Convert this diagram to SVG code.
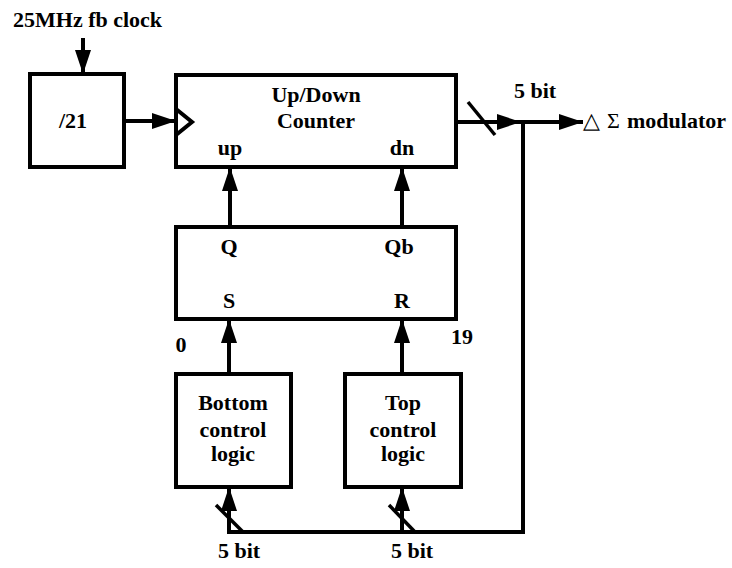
<svg xmlns="http://www.w3.org/2000/svg" width="732" height="568" viewBox="0 0 732 568">
  <style>
    .box { fill: #fff; stroke: #000; stroke-width: 4; }
    .wire { fill: none; stroke: #000; stroke-width: 4; }
    .slash { fill: none; stroke: #000; stroke-width: 3.5; }
    text { font-family: "Liberation Serif", "Times New Roman", serif; font-weight: bold; font-size: 22px; fill: #000; }
    .c { text-anchor: middle; }
    .thin { font-weight: normal; }
  </style>
  <defs>
    <marker id="arrow" markerUnits="userSpaceOnUse" markerWidth="24" markerHeight="16" refX="24" refY="8" orient="auto">
      <path d="M0,0 L24,8 L0,16 z" fill="#000"/>
    </marker>
  </defs>

  <rect width="732" height="568" fill="#fff"/>

  <!-- clock input label -->
  <text x="13" y="27">25MHz fb clock</text>

  <g id="divider">
    <rect class="box" x="30" y="74" width="94" height="93"/>
    <text class="c" x="73" y="128">/21</text>
  </g>

  <g id="counter">
    <rect class="box" x="176" y="75" width="280" height="92"/>
    <path class="wire" d="M176,109 L192,122 L176,135"/>
    <text class="c" x="316" y="102">Up/Down</text>
    <text class="c" x="316" y="128">Counter</text>
    <text class="c" x="230" y="155">up</text>
    <text class="c" x="402" y="155">dn</text>
  </g>

  <g id="srlatch">
    <rect class="box" x="176" y="227" width="280" height="92"/>
    <text class="c" x="229" y="254">Q</text>
    <text class="c" x="399" y="254">Qb</text>
    <text class="c" x="229" y="308">S</text>
    <text class="c" x="402" y="308">R</text>
  </g>

  <g id="bottom-control">
    <rect class="box" x="176" y="374" width="115" height="113"/>
    <text class="c" x="233" y="410">Bottom</text>
    <text class="c" x="233" y="437">control</text>
    <text class="c" x="233" y="461">logic</text>
  </g>

  <g id="top-control">
    <rect class="box" x="345" y="374" width="116" height="113"/>
    <text class="c" x="403" y="410">Top</text>
    <text class="c" x="403" y="437">control</text>
    <text class="c" x="403" y="461">logic</text>
  </g>

  <g id="connectors">
    <!-- clock into divider -->
    <line class="wire" x1="83" y1="38" x2="83" y2="74" marker-end="url(#arrow)"/>
    <!-- divider to counter clock -->
    <line class="wire" x1="124" y1="121" x2="176" y2="121" marker-end="url(#arrow)"/>
    <!-- latch outputs to counter -->
    <line class="wire" x1="230" y1="227" x2="230" y2="167" marker-end="url(#arrow)"/>
    <line class="wire" x1="402" y1="227" x2="402" y2="167" marker-end="url(#arrow)"/>
    <!-- control logic to latch -->
    <line class="wire" x1="229" y1="374" x2="229" y2="319" marker-end="url(#arrow)"/>
    <line class="wire" x1="402" y1="374" x2="402" y2="319" marker-end="url(#arrow)"/>
    <!-- counter output bus -->
    <line class="wire" x1="456" y1="122" x2="521" y2="122" marker-end="url(#arrow)"/>
    <line class="wire" x1="521" y1="122" x2="583" y2="122" marker-end="url(#arrow)"/>
    <line class="slash" x1="468" y1="102" x2="495" y2="135"/>
    <!-- feedback bus -->
    <path class="wire" d="M523,120 L523,532 L229,532"/>
    <line class="wire" x1="229" y1="534" x2="229" y2="487" marker-end="url(#arrow)"/>
    <line class="wire" x1="402" y1="534" x2="402" y2="487" marker-end="url(#arrow)"/>
    <line class="slash" x1="216" y1="505" x2="243" y2="532"/>
    <line class="slash" x1="389" y1="505" x2="415" y2="532"/>
  </g>

  <!-- bus widths and range labels -->
  <text class="c" x="535" y="98">5 bit</text>
  <text class="c" x="239" y="558">5 bit</text>
  <text class="c" x="412" y="558">5 bit</text>
  <text class="c" x="181" y="352">0</text>
  <text class="c" x="462" y="344">19</text>

  <text x="583" y="128"><tspan class="thin">△</tspan><tspan class="thin" x="607">Σ</tspan><tspan x="627">modulator</tspan></text>
</svg>
